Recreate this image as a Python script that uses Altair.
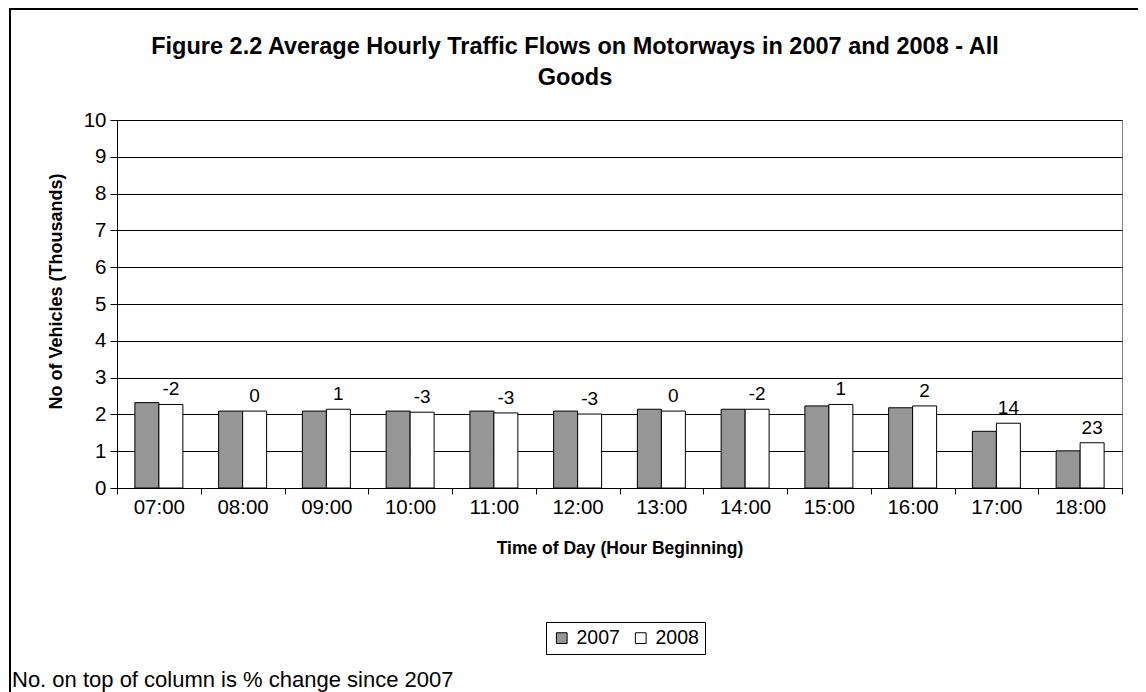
import altair as alt
import pandas as pd

hours = ["07:00", "08:00", "09:00", "10:00", "11:00", "12:00",
         "13:00", "14:00", "15:00", "16:00", "17:00", "18:00"]
v2007 = [2.32, 2.09, 2.09, 2.09, 2.09, 2.09, 2.14, 2.14, 2.23, 2.18, 1.54, 1.01]
v2008 = [2.27, 2.09, 2.14, 2.06, 2.04, 2.01, 2.09, 2.14, 2.27, 2.23, 1.76, 1.23]
pct = ["-2", "0", "1", "-3", "-3", "-3", "0", "-2", "1", "2", "14", "23"]
years = ["2007", "2008"]
y_ticks = [0, 1, 2, 3, 4, 5, 6, 7, 8, 9, 10]
title_lines = ["Figure 2.2 Average Hourly Traffic Flows on Motorways in 2007 and 2008 - All",
               "Goods"]
footnote = "No. on top of column is % change since 2007"

FONT = "Liberation Sans"
TICKFS = 20.5

rows = []
for h, a, b in zip(hours, v2007, v2008):
    rows.append({"hour": h, "year": years[0], "value": a})
    rows.append({"hour": h, "year": years[1], "value": b})
df = pd.DataFrame(rows)
lab = pd.DataFrame({"hour": hours, "year": [years[1]] * len(hours),
                    "value": v2008, "pct": pct})
one = pd.DataFrame({"k": [0]})

x_enc = alt.X("hour:N", sort=hours,
              scale=alt.Scale(paddingInner=0, paddingOuter=0),
              axis=alt.Axis(title="Time of Day (Hour Beginning)", labelAngle=0,
                            tickBand="extent", domainColor="black",
                            tickColor="black", tickSize=6, labelPadding=3,
                            titlePadding=22, grid=False))
xo_enc = alt.XOffset("year:N", sort=years,
                     scale=alt.Scale(paddingInner=0, paddingOuter=0.745))
y_axis = alt.Axis(title="No of Vehicles (Thousands)", values=y_ticks,
                  grid=True, gridColor="black",
                  domainColor="black", tickColor="black", tickSize=7,
                  labelPadding=4, titlePadding=18, titleY=171, labelOverlap=False)
y_enc = alt.Y("value:Q", scale=alt.Scale(domain=[0, 10], nice=False), axis=y_axis)

bars = alt.Chart(df).mark_bar(stroke="black", strokeWidth=1).encode(
    x=x_enc, xOffset=xo_enc, y=y_enc,
    color=alt.Color("year:N", sort=years,
                    scale=alt.Scale(domain=years, range=["#969696", "#ffffff"]),
                    legend=alt.Legend(title=None, orient="none", legendX=429, legendY=502,
                                      direction="horizontal", symbolType="square",
                                      symbolSize=115, symbolStrokeColor="black",
                                      symbolStrokeWidth=1, strokeColor="black",
                                      padding=6, columnPadding=11, labelFontSize=19.5,
                                      labelFont=FONT, labelColor="black", labelOffset=5)),
)

texts = alt.Chart(lab).mark_text(baseline="bottom", dy=-5, fontSize=19, font=FONT,
                                 color="black").encode(
    x=x_enc, xOffset=xo_enc, y=y_enc, text="pct:N")

border = alt.Chart(one).mark_rect(fill=None, stroke="black", strokeWidth=2).encode(
    x=alt.value(-107), x2=alt.value(1060), y=alt.value(-111), y2=alt.value(600))

note = alt.Chart(one).mark_text(align="left", baseline="alphabetic", fontSize=22,
                                font=FONT, color="black").encode(
    x=alt.value(-105), y=alt.value(567), text=alt.value(footnote))

t1 = alt.Chart(one).mark_text(align="center", baseline="alphabetic", fontSize=23.5,
                              fontWeight="bold", font=FONT, color="black").encode(
    x=alt.value(458), y=alt.value(-66), text=alt.value(title_lines[0]))
t2 = alt.Chart(one).mark_text(align="center", baseline="alphabetic", fontSize=23.5,
                              fontWeight="bold", font=FONT, color="black").encode(
    x=alt.value(458), y=alt.value(-35), text=alt.value(title_lines[1]))

chart = alt.layer(border, bars, texts, note, t1, t2).properties(
    width=1005, height=368,
    autosize=alt.AutoSizeParams(type="none"),
    padding={"left": 109, "top": 112, "right": 16, "bottom": 204},
).configure_view(stroke="#808080", strokeWidth=1).configure_axis(
    labelFont=FONT, labelFontSize=TICKFS, labelColor="black",
    titleFont=FONT, titleFontSize=17.5, titleFontWeight="bold", titleColor="black",
).configure_axisY(titleFontSize=18)

chart.save("out.html", embed_options={"renderer": "svg", "actions": False})
